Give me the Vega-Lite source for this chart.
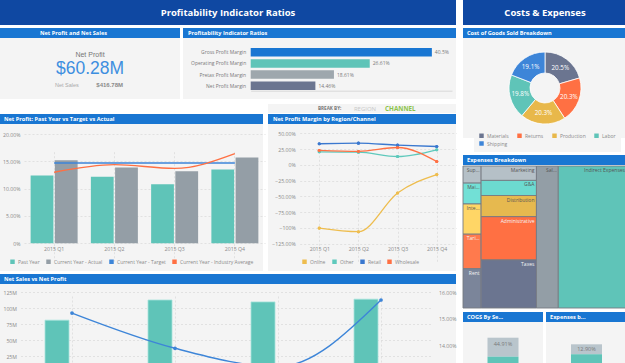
{
  "$schema": "https://vega.github.io/schema/vega-lite/v6.json",
  "background": "#ffffff",
  "padding": 0,
  "spacing": 5,
  "resolve": {"scale": {"color": "independent"}},
  "config": {
    "view": {"stroke": null},
    "font": "Open Sans",
    "axis": {"labelFont": "Open Sans", "labelFontSize": 5.2, "labelColor": "#8a8a8a", "ticks": false, "domain": false, "gridColor": "#d9d9d9", "gridDash": [2, 2], "gridWidth": 0.7, "labelOverlap": false},
    "legend": {"labelFont": "Open Sans", "labelFontSize": 5, "labelColor": "#8a8a8a", "symbolType": "square", "symbolSize": 20, "symbolStrokeWidth": 0}
  },
  "hconcat": [
    {
      "spacing": 3,
      "resolve": {"scale": {"color": "independent"}},
      "vconcat": [
        {
          "width": 456, "height": 25, "view": {"fill": "#0f48a2"},
          "data": {"values": [{"title": "Profitability Indicator Ratios"}]},
          "mark": {"type": "text", "font": "Open Sans", "fontWeight": "bold", "fontSize": 9.5, "color": "#ffffff"},
          "encoding": {"text": {"field": "title", "type": "nominal"}}
        },
        {
          "spacing": 3,
          "resolve": {"scale": {"color": "independent"}},
          "hconcat": [
            {
              "spacing": 0,
              "vconcat": [
                {
                  "width": 180, "height": 10, "view": {"fill": "#1976d2"},
                  "data": {"values": [{"title": "Net Profit and Net Sales"}]},
                  "mark": {"type": "text", "align": "left", "dx": 40, "fontSize": 5.6, "fontWeight": "bold", "color": "#ffffff"},
                  "encoding": {"text": {"field": "title", "type": "nominal"}, "x": {"datum": 0, "type": "quantitative", "scale": {"domain": [0, 1]}, "axis": null}}
                },
                {
                  "width": 180, "height": 61, "view": {"fill": "#f4f4f4"},
                  "data": {"values": [{"metric": "Net Profit", "value": 60280000}, {"metric": "Net Sales", "value": 416780000}]},
                  "layer": [
                    {"transform": [{"filter": "datum.metric == 'Net Profit'"}], "mark": {"type": "text", "font": "Liberation Sans", "fontSize": 7, "color": "#777777", "baseline": "alphabetic", "dy": -12}, "encoding": {"text": {"field": "metric", "type": "nominal"}}},
                    {"transform": [{"filter": "datum.metric == 'Net Profit'"}], "mark": {"type": "text", "font": "Liberation Sans", "fontSize": 17.5, "color": "#3d8fe0", "baseline": "alphabetic", "dy": 5.8}, "encoding": {"text": {"field": "value", "type": "quantitative", "format": "$.4s"}}},
                    {"transform": [{"filter": "datum.metric == 'Net Sales'"}], "mark": {"type": "text", "font": "Liberation Sans", "fontSize": 5.5, "color": "#aaaaaa", "align": "left", "baseline": "alphabetic", "dx": -35, "dy": 18.2}, "encoding": {"text": {"field": "metric", "type": "nominal"}}},
                    {"transform": [{"filter": "datum.metric == 'Net Sales'"}], "mark": {"type": "text", "font": "Liberation Sans", "fontSize": 6, "fontWeight": "bold", "color": "#8a8a8a", "align": "right", "baseline": "alphabetic", "dx": 33, "dy": 18.2}, "encoding": {"text": {"field": "value", "type": "quantitative", "format": "$.5s"}}}
                  ]
                }
              ]
            },
            {
              "spacing": 0,
              "vconcat": [
                {
                  "width": 273, "height": 10, "view": {"fill": "#1976d2"},
                  "data": {"values": [{"title": "Profitability Indicator Ratios"}]},
                  "mark": {"type": "text", "align": "left", "dx": 5, "fontSize": 5.6, "fontWeight": "bold", "color": "#ffffff"},
                  "encoding": {"text": {"field": "title", "type": "nominal"}, "x": {"datum": 0, "type": "quantitative", "scale": {"domain": [0, 1]}, "axis": null}}
                },
                {
                  "width": 273, "height": 61, "view": {"fill": "#f4f4f4"},
                  "data": {"values": [
                    {"ratio": "Gross Profit Margin", "value": 0.405},
                    {"ratio": "Operating Profit Margin", "value": 0.2661},
                    {"ratio": "Pretax Profit Margin", "value": 0.1861},
                    {"ratio": "Net Profit Margin", "value": 0.1446}
                  ]},
                  "encoding": {
                    "y": {"field": "ratio", "type": "nominal", "sort": null, "title": null, "scale": {"range": [8.6, 53.4], "paddingInner": 0.24, "paddingOuter": 0.12}, "axis": {"offset": -67.7, "labelPadding": 5, "labelFontSize": 5, "labelColor": "#7a7a7a", "grid": false}},
                    "x": {"field": "value", "type": "quantitative", "title": null, "scale": {"domain": [0, 0.45], "range": [67.7, 269]}, "axis": {"labels": false, "grid": false, "domain": true, "domainColor": "#d8d8d8", "offset": -8.3}}
                  },
                  "layer": [
                    {"mark": {"type": "bar"}, "encoding": {"color": {"field": "ratio", "type": "nominal", "scale": {"domain": ["Gross Profit Margin", "Operating Profit Margin", "Pretax Profit Margin", "Net Profit Margin"], "range": ["#1976d2", "#5fc4b8", "#9ea7ad", "#6b7590"]}, "legend": null}}},
                    {"mark": {"type": "text", "align": "left", "dx": 3, "fontSize": 5, "color": "#7a7a7a"}, "encoding": {"text": {"field": "value", "type": "quantitative", "format": ".2~%"}}}
                  ]
                }
              ]
            }
          ]
        },
        {
          "spacing": 0,
          "resolve": {"scale": {"color": "independent"}},
          "vconcat": [
            {
              "spacing": 3,
              "hconcat": [
                {
                  "width": 265, "height": 9,
                  "data": {"values": [{"t": ""}]},
                  "mark": {"type": "text"},
                  "encoding": {"text": {"field": "t", "type": "nominal"}}
                },
                {
                  "width": 188, "height": 9, "view": {"fill": "#f4f4f4"},
                  "data": {"values": [{"label": "BREAK BY:"}, {"label": "REGION"}, {"label": "CHANNEL"}]},
                  "layer": [
                    {"transform": [{"filter": "datum.label == 'BREAK BY:'"}], "mark": {"type": "text", "fontSize": 4.6, "fontWeight": "bold", "color": "#777777"}, "encoding": {"text": {"field": "label", "type": "nominal"}, "x": {"field": "label", "type": "nominal", "scale": {"domain": ["BREAK BY:", "REGION", "CHANNEL"], "range": [44, 150]}, "axis": null}}},
                    {"transform": [{"filter": "datum.label == 'REGION'"}], "mark": {"type": "text", "fontSize": 6, "color": "#c8c8c8"}, "encoding": {"text": {"field": "label", "type": "nominal"}, "x": {"field": "label", "type": "nominal"}}},
                    {"transform": [{"filter": "datum.label == 'CHANNEL'"}], "mark": {"type": "text", "fontSize": 6.3, "fontWeight": "bold", "color": "#8bc34a"}, "encoding": {"text": {"field": "label", "type": "nominal"}, "x": {"field": "label", "type": "nominal"}}}
                  ]
                }
              ]
            },
            {
              "spacing": 5,
              "resolve": {"scale": {"color": "independent"}},
              "hconcat": [
                {
                  "spacing": 0,
                  "vconcat": [
                    {
                      "width": 263, "height": 10, "view": {"fill": "#1976d2"},
                      "data": {"values": [{"title": "Net Profit: Past Year vs Target vs Actual"}]},
                      "mark": {"type": "text", "align": "left", "dx": 4, "fontSize": 5.6, "fontWeight": "bold", "color": "#ffffff"},
                      "encoding": {"text": {"field": "title", "type": "nominal"}, "x": {"datum": 0, "type": "quantitative", "scale": {"domain": [0, 1]}, "axis": null}}
                    },
                    {
                      "width": 263, "height": 147, "view": {"fill": "#f4f4f4"},
                      "data": {"values": [
                        {"quarter": "2015 Q1", "series": "Past Year", "value": 0.124},
                        {"quarter": "2015 Q2", "series": "Past Year", "value": 0.122},
                        {"quarter": "2015 Q3", "series": "Past Year", "value": 0.108},
                        {"quarter": "2015 Q4", "series": "Past Year", "value": 0.135},
                        {"quarter": "2015 Q1", "series": "Current Year - Actual", "value": 0.1521},
                        {"quarter": "2015 Q2", "series": "Current Year - Actual", "value": 0.1389},
                        {"quarter": "2015 Q3", "series": "Current Year - Actual", "value": 0.132},
                        {"quarter": "2015 Q4", "series": "Current Year - Actual", "value": 0.157},
                        {"quarter": "2015 Q1", "series": "Current Year - Target", "value": 0.147},
                        {"quarter": "2015 Q2", "series": "Current Year - Target", "value": 0.147},
                        {"quarter": "2015 Q3", "series": "Current Year - Target", "value": 0.147},
                        {"quarter": "2015 Q4", "series": "Current Year - Target", "value": 0.147},
                        {"quarter": "2015 Q1", "series": "Current Year - Industry Average", "value": 0.130},
                        {"quarter": "2015 Q2", "series": "Current Year - Industry Average", "value": 0.144},
                        {"quarter": "2015 Q3", "series": "Current Year - Industry Average", "value": 0.137},
                        {"quarter": "2015 Q4", "series": "Current Year - Industry Average", "value": 0.164}
                      ]},
                      "encoding": {
                        "x": {"field": "quarter", "type": "nominal", "title": null, "scale": {"range": [24, 265], "paddingInner": 0.22, "paddingOuter": 0.11}, "axis": {"offset": -27.7, "labelPadding": 3, "grid": true, "bandPosition": 0.5, "labelAngle": 0}},
                        "y": {"field": "value", "type": "quantitative", "title": null, "scale": {"domain": [0, 0.2], "range": [119.3, 10]}, "axis": {"values": [0, 0.05, 0.1, 0.15, 0.2], "labelExpr": "datum.value == 0 ? '0%' : format(datum.value, '.2%')", "offset": -24, "labelPadding": 4, "grid": true}}
                      },
                      "layer": [
                        {
                          "transform": [{"filter": "datum.series == 'Past Year' || datum.series == 'Current Year - Actual'"}],
                          "mark": {"type": "bar"},
                          "encoding": {
                            "xOffset": {"field": "series", "type": "nominal", "sort": ["Past Year", "Current Year - Actual"], "scale": {"paddingInner": 0.06}},
                            "color": {"field": "series", "type": "nominal", "scale": {"domain": ["Past Year", "Current Year - Actual", "Current Year - Target", "Current Year - Industry Average"], "range": ["#5fc4b8", "#949ea6", "#3d85d8", "#ff7043"]}, "legend": {"title": null, "orient": "none", "legendX": 10, "legendY": 145, "direction": "horizontal", "columnPadding": 6, "labelOffset": 3, "symbolType": "square", "symbolSize": 20}}
                          }
                        },
                        {
                          "transform": [{"filter": "datum.series == 'Current Year - Target'"}],
                          "mark": {"type": "line", "strokeWidth": 1.6},
                          "encoding": {"color": {"field": "series", "type": "nominal", "legend": null}}
                        },
                        {
                          "transform": [{"filter": "datum.series == 'Current Year - Industry Average'"}],
                          "mark": {"type": "line", "strokeWidth": 1.3, "interpolate": "monotone"},
                          "encoding": {"color": {"field": "series", "type": "nominal", "legend": null}}
                        }
                      ]
                    }
                  ]
                },
                {
                  "spacing": 0,
                  "vconcat": [
                    {
                      "width": 188, "height": 10, "view": {"fill": "#1976d2"},
                      "data": {"values": [{"title": "Net Profit Margin by Region/Channel"}]},
                      "mark": {"type": "text", "align": "left", "dx": 5, "fontSize": 5.6, "fontWeight": "bold", "color": "#ffffff"},
                      "encoding": {"text": {"field": "title", "type": "nominal"}, "x": {"datum": 0, "type": "quantitative", "scale": {"domain": [0, 1]}, "axis": null}}
                    },
                    {
                      "width": 188, "height": 147, "view": {"fill": "#f4f4f4"},
                      "data": {"values": [
                        {"quarter": "2015 Q1", "channel": "Online", "margin": -1.003},
                        {"quarter": "2015 Q2", "channel": "Online", "margin": -1.06},
                        {"quarter": "2015 Q3", "channel": "Online", "margin": -0.446},
                        {"quarter": "2015 Q4", "channel": "Online", "margin": -0.154},
                        {"quarter": "2015 Q1", "channel": "Other", "margin": 0.207},
                        {"quarter": "2015 Q2", "channel": "Other", "margin": 0.201},
                        {"quarter": "2015 Q3", "channel": "Other", "margin": 0.132},
                        {"quarter": "2015 Q4", "channel": "Other", "margin": 0.239},
                        {"quarter": "2015 Q1", "channel": "Retail", "margin": 0.334},
                        {"quarter": "2015 Q2", "channel": "Retail", "margin": 0.344},
                        {"quarter": "2015 Q3", "channel": "Retail", "margin": 0.312},
                        {"quarter": "2015 Q4", "channel": "Retail", "margin": 0.291},
                        {"quarter": "2015 Q1", "channel": "Wholesale", "margin": 0.228},
                        {"quarter": "2015 Q2", "channel": "Wholesale", "margin": 0.212},
                        {"quarter": "2015 Q3", "channel": "Wholesale", "margin": 0.275},
                        {"quarter": "2015 Q4", "channel": "Wholesale", "margin": 0.053}
                      ]},
                      "encoding": {
                        "x": {"field": "quarter", "type": "nominal", "title": null, "scale": {"range": [31.7, 188.3], "paddingInner": 0, "paddingOuter": 0}, "axis": {"offset": -27.3, "labelPadding": 3, "grid": true, "bandPosition": 0.5, "labelAngle": 0}},
                        "y": {"field": "margin", "type": "quantitative", "title": null, "scale": {"domain": [-1.25, 0.5], "range": [119.7, 9.3]}, "axis": {"values": [-1.25, -1, -0.75, -0.5, -0.25, 0, 0.25, 0.5], "labelExpr": "datum.value == round(datum.value) ? format(datum.value, '.0%') : format(datum.value, '.2%')", "offset": -31.7, "labelPadding": 4.5, "grid": true}}
                      },
                      "layer": [
                        {
                          "mark": {"type": "point", "filled": true, "size": 10, "opacity": 1},
                          "encoding": {"color": {"field": "channel", "type": "nominal", "scale": {"domain": ["Online", "Other", "Retail", "Wholesale"], "range": ["#eebd4e", "#5fc9bc", "#3a78cf", "#ff7043"]}, "legend": {"title": null, "orient": "none", "legendX": 34, "legendY": 145, "direction": "horizontal", "columnPadding": 6, "labelOffset": 3, "symbolType": "square", "symbolSize": 20}}}
                        },
                        {
                          "mark": {"type": "line", "interpolate": "monotone", "strokeWidth": 1.3},
                          "encoding": {"color": {"field": "channel", "type": "nominal", "legend": null}}
                        },
                        {
                          "mark": {"type": "point", "filled": true, "size": 10, "opacity": 1},
                          "encoding": {"color": {"field": "channel", "type": "nominal", "legend": null}}
                        }
                      ]
                    }
                  ]
                }
              ]
            }
          ]
        },
        {
          "spacing": 0,
          "vconcat": [
            {
              "width": 456, "height": 10, "view": {"fill": "#1976d2"},
              "data": {"values": [{"title": "Net Sales vs Net Profit"}]},
              "mark": {"type": "text", "align": "left", "dx": 4, "fontSize": 5.6, "fontWeight": "bold", "color": "#ffffff"},
              "encoding": {"text": {"field": "title", "type": "nominal"}, "x": {"datum": 0, "type": "quantitative", "scale": {"domain": [0, 1]}, "axis": null}}
            },
            {
              "width": 456, "height": 100, "view": {"fill": "#f4f4f4"},
              "data": {"values": [
                {"quarter": "2015 Q1", "sales": 81000000, "margin": 0.1521},
                {"quarter": "2015 Q2", "sales": 112500000, "margin": 0.1389},
                {"quarter": "2015 Q3", "sales": 109500000, "margin": 0.132},
                {"quarter": "2015 Q4", "sales": 113800000, "margin": 0.157}
              ]},
              "encoding": {
                "x": {"field": "quarter", "type": "nominal", "title": null, "scale": {"range": [20.5, 432.5], "paddingInner": 0, "paddingOuter": 0}, "axis": {"offset": -12, "labels": false, "grid": true, "bandPosition": 0.5}}
              },
              "layer": [
                {
                  "mark": {"type": "bar", "width": 24, "xOffset": -15, "color": "#5fc4b8", "stroke": "#a6e3dc", "strokeWidth": 0.8},
                  "encoding": {"y": {"field": "sales", "type": "quantitative", "title": null, "scale": {"domain": [0, 125000000], "range": [88, 8]}, "axis": {"values": [25000000, 50000000, 75000000, 100000000, 125000000], "format": "~s", "offset": -20.5, "labelPadding": 4, "grid": true}}}
                },
                {
                  "mark": {"type": "line", "color": "#3d85d8", "strokeWidth": 1.4, "interpolate": "monotone", "point": {"filled": true, "size": 14, "color": "#3d85d8"}},
                  "encoding": {"y": {"field": "margin", "type": "quantitative", "title": null, "scale": {"domain": [0.13, 0.16], "range": [88, 8]}, "axis": {"orient": "right", "values": [0.14, 0.15, 0.16], "format": ".2%", "offset": -23.5, "labelPadding": 6, "grid": false}}}
                }
              ],
              "resolve": {"scale": {"y": "independent"}}
            }
          ]
        }
      ]
    },
    {
      "spacing": 3,
      "resolve": {"scale": {"color": "independent"}},
      "vconcat": [
        {
          "width": 164, "height": 25, "view": {"fill": "#0f48a2"},
          "data": {"values": [{"title": "Costs & Expenses"}]},
          "mark": {"type": "text", "font": "Open Sans", "fontWeight": "bold", "fontSize": 9.5, "color": "#ffffff"},
          "encoding": {"text": {"field": "title", "type": "nominal"}}
        },
        {
          "spacing": 0,
          "vconcat": [
            {
              "width": 164, "height": 10, "view": {"fill": "#1976d2"},
              "data": {"values": [{"title": "Cost of Goods Sold Breakdown"}]},
              "mark": {"type": "text", "align": "left", "dx": 4, "fontSize": 5.6, "fontWeight": "bold", "color": "#ffffff"},
              "encoding": {"text": {"field": "title", "type": "nominal"}, "x": {"datum": 0, "type": "quantitative", "scale": {"domain": [0, 1]}, "axis": null}}
            },
            {
              "width": 164, "height": 100, "view": {"fill": "#f4f4f4"},
              "data": {"values": [
                {"category": "Materials", "share": 0.205},
                {"category": "Returns", "share": 0.2032},
                {"category": "Production", "share": 0.2028},
                {"category": "Labor", "share": 0.198},
                {"category": "Shipping", "share": 0.191}
              ]},
              "layer": [
                {
                  "mark": {"type": "arc", "outerRadius": 36, "innerRadius": 15, "stroke": "#ffffff", "strokeWidth": 0.8},
                  "encoding": {
                    "theta": {"field": "share", "type": "quantitative", "stack": true},
                    "order": {"field": "share", "type": "quantitative", "sort": "descending"},
                    "color": {"field": "category", "type": "nominal", "scale": {"domain": ["Materials", "Returns", "Production", "Labor", "Shipping"], "range": ["#6b7590", "#ff7043", "#e8b84a", "#5fc4b8", "#3d85d8"]}, "legend": {"title": null, "orient": "none", "legendX": 11, "legendY": 100, "padding": 5, "fillColor": "#f4f4f4", "direction": "horizontal", "columns": 4, "columnPadding": 8, "rowPadding": 2, "labelOffset": 3, "symbolType": "square", "symbolSize": 20}}
                  }
                },
                {
                  "mark": {"type": "text", "radius": 25.5, "fontSize": 6.3, "color": "#ffffff"},
                  "encoding": {
                    "theta": {"field": "share", "type": "quantitative", "stack": true},
                    "order": {"field": "share", "type": "quantitative", "sort": "descending"},
                    "text": {"field": "share", "type": "quantitative", "format": ".1%"}
                  }
                }
              ]
            }
          ]
        },
        {
          "spacing": 0,
          "vconcat": [
            {
              "width": 164, "height": 10, "view": {"fill": "#1976d2"},
              "data": {"values": [{"title": "Expenses Breakdown"}]},
              "mark": {"type": "text", "align": "left", "dx": 4, "fontSize": 5.6, "fontWeight": "bold", "color": "#ffffff"},
              "encoding": {"text": {"field": "title", "type": "nominal"}, "x": {"datum": 0, "type": "quantitative", "scale": {"domain": [0, 1]}, "axis": null}}
            },
            {
              "width": 164, "height": 142,
              "data": {"values": [
                {"group": "Facilities", "item": "Supplies", "value": 3.06},
                {"group": "Facilities", "item": "Maintenance & Services", "value": 3.73},
                {"group": "Facilities", "item": "Interest", "value": 5.4},
                {"group": "Facilities", "item": "Tariffs", "value": 6.17},
                {"group": "Facilities", "item": "Rent", "value": 7.02},
                {"group": "General & Operating", "item": "Marketing", "value": 7.87},
                {"group": "General & Operating", "item": "G&A", "value": 8.25},
                {"group": "General & Operating", "item": "Distribution", "value": 11.55},
                {"group": "General & Operating", "item": "Administrative", "value": 23.65},
                {"group": "General & Operating", "item": "Taxes", "value": 26.24},
                {"group": "Personnel", "item": "Salaries", "value": 30.6},
                {"group": "Shared Overhead", "item": "Indirect Expenses", "value": 96.3}
              ]},
              "transform": [
                {"stack": "value", "groupby": ["group"], "sort": [{"field": "value", "order": "ascending"}], "as": ["y0", "y1"], "offset": "normalize"},
                {"stack": "value", "groupby": [], "sort": [{"field": "group", "order": "ascending"}, {"field": "value", "order": "ascending"}], "as": ["s0", "s1"], "offset": "normalize"},
                {"joinaggregate": [{"op": "min", "field": "s0", "as": "x0"}, {"op": "max", "field": "s1", "as": "x1"}], "groupby": ["group"]}
              ],
              "encoding": {
                "x": {"field": "x0", "type": "quantitative", "scale": {"domain": [0, 1]}, "axis": null},
                "y": {"field": "y0", "type": "quantitative", "scale": {"domain": [0, 1], "reverse": true}, "axis": null}
              },
              "layer": [
                {
                  "mark": {"type": "rect", "stroke": "#767b82", "strokeWidth": 0.9},
                  "encoding": {
                    "x2": {"field": "x1"},
                    "y2": {"field": "y1"},
                    "color": {"field": "item", "type": "nominal", "scale": {"domain": ["Supplies", "Maintenance & Services", "Interest", "Tariffs", "Rent", "Marketing", "G&A", "Distribution", "Administrative", "Taxes", "Salaries", "Indirect Expenses"], "range": ["#b5c0c7", "#72e0d6", "#ffd666", "#ff7a4d", "#7b859a", "#b5c0c7", "#6cdad0", "#e6b94f", "#ff7043", "#6b7590", "#939ea6", "#5fc4b8"]}, "legend": null}
                  }
                },
                {
                  "transform": [{"filter": "datum.group == 'Facilities' || datum.group == 'Personnel'"}],
                  "mark": {"type": "text", "align": "right", "baseline": "top", "dx": -1.5, "dy": 2, "fontSize": 5, "limit": 13, "ellipsis": "..."},
                  "encoding": {
                    "x": {"field": "x1", "type": "quantitative"},
                    "text": {"field": "item", "type": "nominal"},
                    "color": {"condition": {"test": "indexof(['Administrative','Taxes','Rent','Tariffs'], datum.item) >= 0", "value": "#f5f5f5"}, "value": "#555555"}
                  }
                },
                {
                  "transform": [{"filter": "datum.group == 'General & Operating' || datum.group == 'Shared Overhead'"}],
                  "mark": {"type": "text", "align": "right", "baseline": "top", "dx": -2, "dy": 2, "fontSize": 5},
                  "encoding": {
                    "x": {"field": "x1", "type": "quantitative"},
                    "text": {"field": "item", "type": "nominal"},
                    "color": {"condition": {"test": "indexof(['Administrative','Taxes','Rent','Tariffs'], datum.item) >= 0", "value": "#f5f5f5"}, "value": "#555555"}
                  }
                }
              ]
            }
          ]
        },
        {
          "spacing": 3,
          "resolve": {"scale": {"color": "independent"}},
          "hconcat": [
            {
              "spacing": 0,
              "vconcat": [
                {
                  "width": 80, "height": 10, "view": {"fill": "#1976d2"},
                  "data": {"values": [{"title": "COGS By Segment"}]},
                  "mark": {"type": "text", "align": "left", "dx": 4, "fontSize": 5.6, "fontWeight": "bold", "color": "#ffffff", "limit": 38, "ellipsis": "..."},
                  "encoding": {"text": {"field": "title", "type": "nominal"}, "x": {"datum": 0, "type": "quantitative", "scale": {"domain": [0, 1]}, "axis": null}}
                },
                {
                  "width": 80, "height": 60, "view": {"fill": "#f4f4f4"},
                  "data": {"values": [
                    {"panel": "COGS", "segment": "Top Segment", "share": 0.4491},
                    {"panel": "COGS", "segment": "Other Segments", "share": 0.5509}
                  ]},
                  "encoding": {"x": {"field": "panel", "type": "nominal", "axis": null}},
                  "layer": [
                    {
                      "mark": {"type": "bar", "width": 31},
                      "encoding": {
                        "y": {"field": "share", "type": "quantitative", "stack": "zero", "scale": {"domain": [0, 1], "range": [58, 15.7]}, "axis": null},
                        "order": {"field": "share", "type": "quantitative", "sort": "descending"},
                        "color": {"field": "segment", "type": "nominal", "scale": {"domain": ["Top Segment", "Other Segments"], "range": ["#b9c5cc", "#5fc4b8"]}, "legend": null}
                      }
                    },
                    {
                      "transform": [{"filter": "datum.segment == 'Top Segment'"}],
                      "mark": {"type": "text", "dy": 6.3, "fontSize": 5.5, "color": "#7a7a7a"},
                      "encoding": {"y": {"datum": 1, "type": "quantitative"}, "text": {"field": "share", "type": "quantitative", "format": ".2%"}}
                    }
                  ]
                }
              ]
            },
            {
              "spacing": 0,
              "vconcat": [
                {
                  "width": 81, "height": 10, "view": {"fill": "#1976d2"},
                  "data": {"values": [{"title": "Expenses by Segment"}]},
                  "mark": {"type": "text", "align": "left", "dx": 4, "fontSize": 5.6, "fontWeight": "bold", "color": "#ffffff", "limit": 38, "ellipsis": "..."},
                  "encoding": {"text": {"field": "title", "type": "nominal"}, "x": {"datum": 0, "type": "quantitative", "scale": {"domain": [0, 1]}, "axis": null}}
                },
                {
                  "width": 81, "height": 60, "view": {"fill": "#f4f4f4"},
                  "data": {"values": [
                    {"panel": "Expenses", "segment": "Top Segment", "share": 0.129},
                    {"panel": "Expenses", "segment": "Other Segments", "share": 0.871}
                  ]},
                  "encoding": {"x": {"field": "panel", "type": "nominal", "axis": null}},
                  "layer": [
                    {
                      "mark": {"type": "bar", "width": 31},
                      "encoding": {
                        "y": {"field": "share", "type": "quantitative", "stack": "zero", "scale": {"domain": [0, 1], "range": [99.8, 22.3]}, "axis": null},
                        "order": {"field": "share", "type": "quantitative", "sort": "descending"},
                        "color": {"field": "segment", "type": "nominal", "scale": {"domain": ["Top Segment", "Other Segments"], "range": ["#b9c5cc", "#5fc4b8"]}, "legend": null}
                      }
                    },
                    {
                      "transform": [{"filter": "datum.segment == 'Top Segment'"}],
                      "mark": {"type": "text", "dy": 5, "fontSize": 5.5, "color": "#7a7a7a"},
                      "encoding": {"y": {"datum": 1, "type": "quantitative"}, "text": {"field": "share", "type": "quantitative", "format": ".2%"}}
                    }
                  ]
                }
              ]
            }
          ]
        }
      ]
    }
  ]
}
